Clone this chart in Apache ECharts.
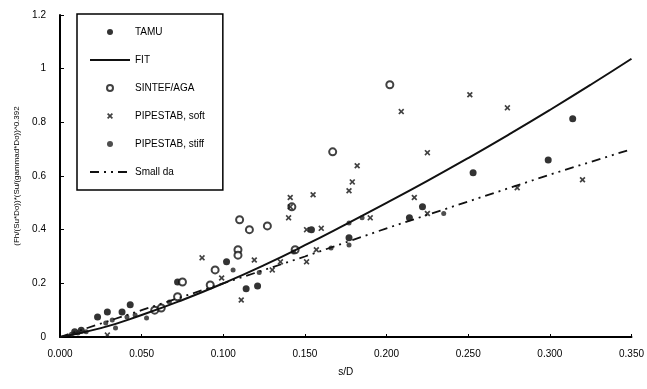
<!DOCTYPE html>
<html>
<head>
<meta charset="utf-8">
<script src="https://cdn.jsdelivr.net/npm/echarts@6/dist/echarts.min.js"></script>
<style>
  html, body { margin: 0; padding: 0; background: #fff; }
  #chart { width: 647px; height: 389px; }
</style>
</head>
<body>
<div id="chart"></div>
<script>
// values: [s/D, normalised force]
var tamu = [
  [0.314, 0.813], [0.299, 0.66], [0.253, 0.612], [0.222, 0.485], [0.214, 0.444],
  [0.177, 0.37], [0.154, 0.40], [0.114, 0.18], [0.121, 0.19], [0.102, 0.28],
  [0.043, 0.12], [0.023, 0.075], [0.029, 0.093], [0.038, 0.093], [0.072, 0.205],
  [0.009, 0.02], [0.013, 0.025]
];
var sintef = [
  [0.202, 0.94], [0.167, 0.69], [0.142, 0.485], [0.110, 0.437], [0.116, 0.40],
  [0.127, 0.414], [0.109, 0.325], [0.109, 0.305], [0.095, 0.25], [0.092, 0.194],
  [0.072, 0.15], [0.144, 0.325], [0.075, 0.205], [0.062, 0.108], [0.058, 0.10]
];
var pipeSoft = [
  [0.251, 0.903], [0.274, 0.854], [0.209, 0.84], [0.225, 0.687], [0.182, 0.638],
  [0.179, 0.578], [0.177, 0.545], [0.155, 0.53], [0.141, 0.52], [0.141, 0.485],
  [0.140, 0.444], [0.217, 0.52], [0.190, 0.444], [0.160, 0.405], [0.151, 0.40],
  [0.157, 0.325], [0.151, 0.28], [0.135, 0.28], [0.130, 0.25], [0.119, 0.287],
  [0.087, 0.295], [0.111, 0.138], [0.099, 0.22], [0.320, 0.586], [0.280, 0.556],
  [0.029, 0.007], [0.225, 0.46]
];
var pipeStiff = [
  [0.185, 0.444], [0.177, 0.425], [0.166, 0.332], [0.177, 0.343], [0.143, 0.317],
  [0.106, 0.25], [0.122, 0.24], [0.067, 0.13], [0.053, 0.071], [0.046, 0.082],
  [0.041, 0.075], [0.034, 0.034], [0.032, 0.063], [0.028, 0.052], [0.007, 0.01],
  [0.011, 0.015], [0.016, 0.02], [0.235, 0.46]
];
var fitS = [0, 0.025, 0.05, 0.075, 0.1, 0.125, 0.15, 0.175, 0.2, 0.225, 0.25, 0.275, 0.3, 0.325, 0.35];
var fitV = [0, 0.033, 0.082, 0.138, 0.2, 0.268, 0.342, 0.42, 0.5, 0.582, 0.667, 0.755, 0.846, 0.94, 1.037];
var smallS = [0, 0.05, 0.1, 0.15, 0.2, 0.25, 0.3, 0.35];
var smallV = [0, 0.1, 0.2, 0.3, 0.405, 0.505, 0.605, 0.70];

var crossPath = 'path://M2,0L5,3L8,0L10,2L7,5L10,8L8,10L5,7L2,10L0,8L3,5L0,2Z';

function pairs(xs, ys) {
  return xs.map(function(x, i) { return [x, ys[i]]; });
}

var chart = echarts.init(document.getElementById('chart'));
var font = 'Liberation Sans';
var dashDot = [9, 5, 2, 5, 2, 5];

var option = {
  animation: false,
  textStyle: { fontFamily: font, color: '#000' },
  grid: { left: 60, right: 15, top: 15, bottom: 52 },
  legend: {
    orient: 'vertical',
    left: 77,
    top: 14,
    padding: [13, 18, 13, 12],
    itemWidth: 40,
    itemHeight: 6,
    itemGap: 18,
    borderColor: '#000',
    borderWidth: 1.5,
    textStyle: { fontFamily: font, fontSize: 10, color: '#000' },
    data: [
      { name: 'TAMU', icon: 'circle' },
      { name: 'FIT', itemStyle: { opacity: 0 } },
      { name: 'SINTEF/AGA', icon: 'emptyCircle' },
      { name: 'PIPESTAB, soft', icon: crossPath },
      { name: 'PIPESTAB, stiff', icon: 'circle' },
      { name: 'Small da', itemStyle: { opacity: 0 } }
    ]
  },
  xAxis: {
    type: 'value',
    min: 0,
    max: 0.35,
    interval: 0.05,
    name: 's/D',
    nameLocation: 'middle',
    nameGap: 30,
    nameTextStyle: { fontSize: 10, color: '#000' },
    splitLine: { show: false },
    axisLine: { lineStyle: { color: '#000', width: 2 } },
    axisTick: { inside: true, length: 3, lineStyle: { color: '#000' } },
    axisLabel: {
      fontSize: 10, color: '#000', margin: 12,
      formatter: function(v) { return v.toFixed(3); }
    }
  },
  yAxis: {
    type: 'value',
    min: 0,
    max: 1.2,
    interval: 0.2,
    name: '(Fh/(Su*Do))*(Su/(gammad*Do))^0.392',
    nameLocation: 'middle',
    nameGap: 38,
    nameTextStyle: { fontSize: 8, color: '#000' },
    splitLine: { show: false },
    axisLine: { show: true, lineStyle: { color: '#000', width: 2 } },
    axisTick: { show: true, inside: true, length: 4, lineStyle: { color: '#000' } },
    axisLabel: {
      fontSize: 10, color: '#000', margin: 14,
      formatter: function(v) { return String(Math.round(v * 10) / 10); }
    }
  },
  series: [
    {
      name: 'TAMU', type: 'scatter', data: tamu,
      symbol: 'circle', symbolSize: 7,
      itemStyle: { color: '#000' }
    },
    {
      name: 'FIT', type: 'line', data: pairs(fitS, fitV),
      showSymbol: false, symbol: 'none', smooth: true,
      lineStyle: { color: '#111', width: 2 },
      itemStyle: { color: '#111' }
    },
    {
      name: 'SINTEF/AGA', type: 'scatter', data: sintef,
      symbol: 'emptyCircle', symbolSize: 7,
      itemStyle: { color: '#111', borderColor: '#111', borderWidth: 1.5 }
    },
    {
      name: 'PIPESTAB, soft', type: 'scatter', data: pipeSoft,
      symbol: crossPath, symbolSize: 6,
      itemStyle: { color: '#111' }
    },
    {
      name: 'PIPESTAB, stiff', type: 'scatter', data: pipeStiff,
      symbol: 'circle', symbolSize: 5,
      itemStyle: { color: '#222' }
    },
    {
      name: 'Small da', type: 'line', data: pairs(smallS, smallV),
      showSymbol: false, symbol: 'none',
      lineStyle: { color: '#111', width: 1.8, type: dashDot },
      itemStyle: { color: '#111' }
    }
  ]
};

chart.setOption(option);
</script>
</body>
</html>
